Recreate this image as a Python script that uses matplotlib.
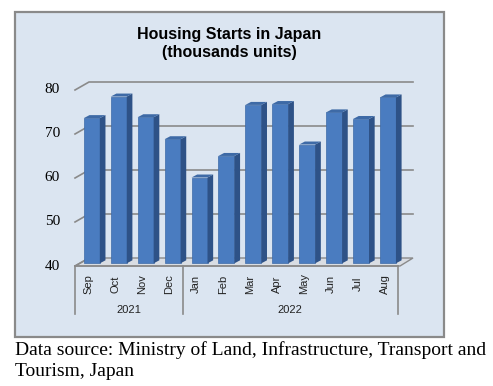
import matplotlib
matplotlib.use("Agg")
import matplotlib.pyplot as plt
from matplotlib.patches import Polygon, Rectangle

months = ["Sep", "Oct", "Nov", "Dec", "Jan", "Feb", "Mar", "Apr", "May", "Jun", "Jul", "Aug"]
starts = [73.0, 77.9, 73.2, 68.2, 59.5, 64.4, 76.0, 76.2, 67.0, 74.3, 72.8, 77.7]
years = ["2021", "2022"]
year_spans = [(0, 4), (4, 12)]
yticks = [40, 50, 60, 70, 80]

W, H = 493, 386
fig = plt.figure(figsize=(W / 100, H / 100), dpi=100)
ax = fig.add_axes([0, 0, 1, 1])

# pixel -> data mapping (category units in x, value units in y)
X0, XS = 75, 26.92
Y0, YS = 266, 4.4


def px(p):
    return (p - X0) / XS


def py(p):
    return 40 + (Y0 - p) / YS


ax.set_xlim(px(0), px(W))
ax.set_ylim(py(H), py(0))
ax.axis("off")

# chart frame
ax.add_patch(Rectangle((px(15), py(337)), px(444) - px(15), py(12) - py(337),
                       facecolor="#dbe5f1", edgecolor="#8a8a8a", lw=1.6, zorder=0))

depth_x, depth_y = px(89) - px(75), 8 / YS
back_right = px(413)
front_right = px(400)

# floor
ax.add_patch(Polygon([(0, 40), (front_right, 40), (back_right, 40 + depth_y), (depth_x, 40 + depth_y)],
                     closed=True, facecolor="#d9dde3", edgecolor="#8a8a8a", lw=1.0, zorder=1))

# gridlines on back wall + left wall
for v in yticks[1:]:
    ax.plot([0, depth_x, back_right], [v, v + depth_y, v + depth_y], color="#8a8a8a", lw=1.2, zorder=1)
ax.plot([0, depth_x], [40, 40 + depth_y], color="#8a8a8a", lw=1.2, zorder=1)
for v in yticks:
    ax.text(px(60), v, str(v), ha="right", va="center", fontsize=11, family="Liberation Serif")

# bars (fake 3D)
bw = 0.594
shift_x, shift_y = 0.125, 0.61
side_x, side_y = 0.21, 3 / YS
lefts = [i + 0.5 - bw / 2 + shift_x for i in range(len(months))]
base = 40 + shift_y
ax.bar(lefts, [v - 40 for v in starts], width=bw, bottom=base, align="edge",
       color="#4a7cc0", edgecolor="#3d6aa8", lw=0.5, zorder=3)
for l, v in zip(lefts, starts):
    r = l + bw
    top = v + shift_y
    ax.add_patch(Polygon([(r, base), (r + side_x, base + side_y), (r + side_x, top + side_y), (r, top)],
                         closed=True, facecolor="#2e5287", edgecolor="none", zorder=3))
    ax.add_patch(Polygon([(l, top), (l + side_x, top + side_y), (r + side_x, top + side_y), (r, top)],
                         closed=True, facecolor="#3e6aa6", edgecolor="none", zorder=3))

# category axis
ax.plot([0, 12], [40, 40], color="#8a8a8a", lw=1.2, zorder=2)
for xb in [0, 4, 12]:
    ax.plot([xb, xb], [40, py(314)], color="#8a8a8a", lw=1.2, zorder=2)
for i, m in enumerate(months):
    ax.text(i + 0.5, py(284), m, rotation=90, ha="center", va="center", fontsize=8,
            family="Liberation Sans", color="#222222")
for yr, (a, b) in zip(years, year_spans):
    ax.text((a + b) / 2, py(310), yr, ha="center", va="center", fontsize=8,
            family="Liberation Sans", color="#222222")

# title
ax.text(px(229.5), py(35), "Housing Starts in Japan", ha="center", va="center",
        fontsize=11.5, fontweight="bold", family="Liberation Sans")
ax.text(px(229.5), py(53), "(thousands units)", ha="center", va="center",
        fontsize=11.5, fontweight="bold", family="Liberation Sans")

# source note
ax.text(px(15), py(350), "Data source: Ministry of Land, Infrastructure, Transport and",
        ha="left", va="center", fontsize=14, family="Liberation Serif")
ax.text(px(15), py(372), "Tourism, Japan", ha="left", va="center", fontsize=14, family="Liberation Serif")

fig.savefig("out.png", dpi=100)
